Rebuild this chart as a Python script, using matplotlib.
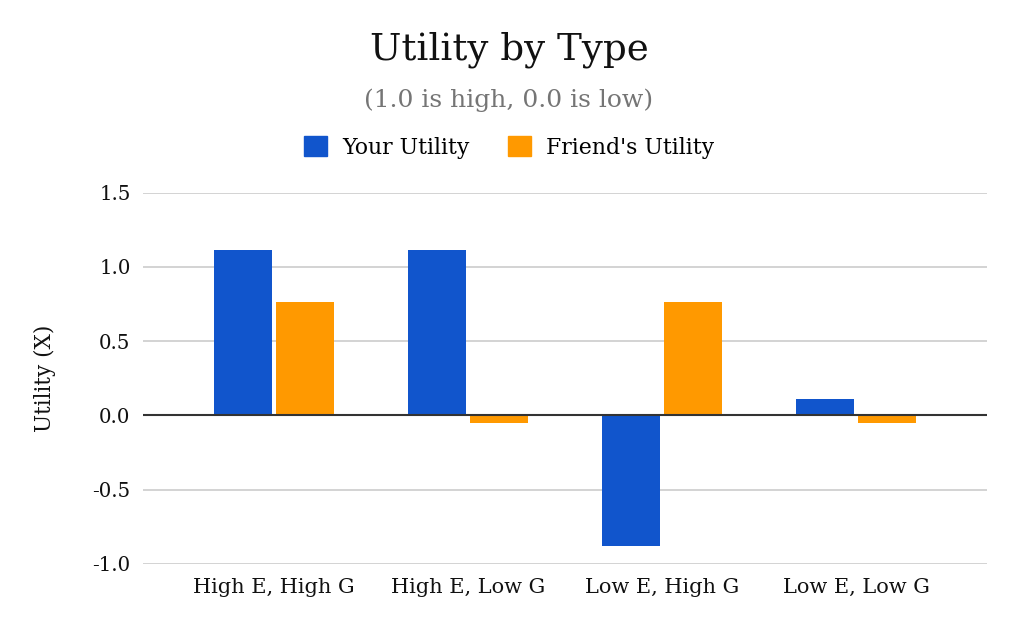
import matplotlib.pyplot as plt
from matplotlib.patches import Patch

categories = ["High E, High G", "High E, Low G", "Low E, High G", "Low E, Low G"]
your_utility = [1.11, 1.11, -0.88, 0.11]
friend_utility = [0.76, -0.05, 0.76, -0.05]
yticks = [-1.0, -0.5, 0.0, 0.5, 1.0, 1.5]

blue = "#1155cc"
orange = "#ff9900"

plt.rcParams['font.family'] = ['DejaVu Serif']

fig = plt.figure(figsize=(10.18, 6.32), dpi=100)
ax = fig.add_axes([0.1405, 0.1076, 0.829, 0.5878])

x = list(range(len(categories)))
w = 0.3
ax.bar([i - 0.16 for i in x], your_utility, w, color=blue, zorder=3)
ax.bar([i + 0.16 for i in x], friend_utility, w, color=orange, zorder=3)

ax.set_xlim(-0.675, 3.675)
ax.set_ylim(-1.0, 1.5)
ax.set_yticks(yticks)
ax.set_yticklabels(["%.1f" % v for v in yticks])
ax.set_xticks(x)
ax.set_xticklabels(categories)
ax.grid(axis="y", color="#cccccc", linewidth=1.2, zorder=0)
ax.axhline(0, color="#333333", linewidth=1.5, zorder=4)
for s in ax.spines.values():
    s.set_visible(False)
ax.tick_params(length=0, colors="#111111")
ax.tick_params(axis="y", pad=9, labelsize=14.2)
ax.tick_params(axis="x", pad=10, labelsize=15)
ax.set_ylabel("Utility (X)", fontsize=15.5, color="#111111", labelpad=26)

fig.text(0.5, 0.921, "Utility by Type", ha="center", va="center", fontsize=26.8, color="#111111")
fig.text(0.5, 0.842, "(1.0 is high, 0.0 is low)", ha="center", va="center", fontsize=18, color="#757575")

handles = [Patch(color=blue, label="Your Utility"), Patch(color=orange, label="Friend's Utility")]
fig.legend(handles=handles, loc="center", bbox_to_anchor=(0.5, 0.767), ncol=2, frameon=False,
           fontsize=15.8, handlelength=1.05, handleheight=1.05, columnspacing=1.75, handletextpad=0.7)

fig.savefig("out.png", dpi=100, facecolor="white")
